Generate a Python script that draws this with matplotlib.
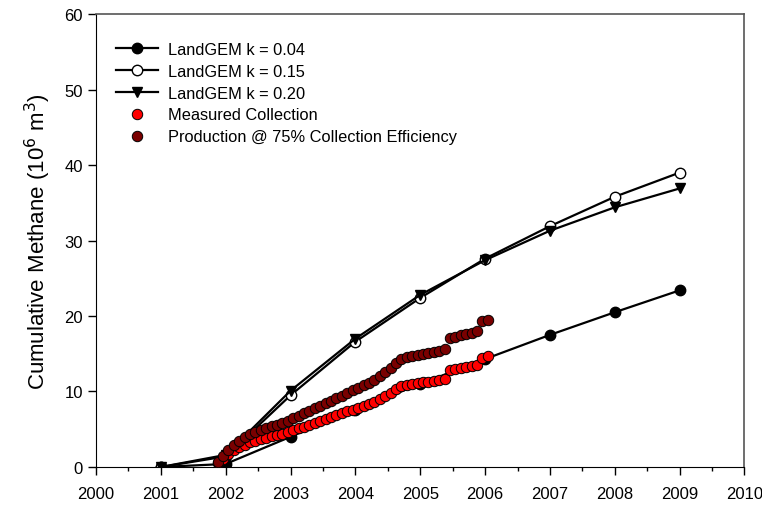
import matplotlib.pyplot as plt
import numpy as np

plt.rcParams['font.family'] = ['Liberation Sans', 'DejaVu Sans']

# LandGEM model runs, one value per year
anios = [2001, 2002, 2003, 2004, 2005, 2006, 2007, 2008, 2009]
k004 = [0.0, 0.4, 4.0, 7.6, 11.0, 14.3, 17.5, 20.5, 23.4]
k015 = [0.0, 1.4, 9.5, 16.6, 22.4, 27.6, 31.9, 35.8, 39.0]
k020 = [0.0, 1.6, 10.1, 17.0, 22.8, 27.4, 31.3, 34.4, 36.9]

# Monthly measured collection, Nov 2001 - Feb 2006 (10^6 m3)
medido = [0.5, 1.1, 1.7, 2.2, 2.6, 2.95, 3.25, 3.5, 3.7, 3.9, 4.05, 4.2,
          4.4, 4.6, 4.85, 5.1, 5.35, 5.6, 5.85, 6.1, 6.35, 6.6, 6.85, 7.1,
          7.35, 7.6, 7.85, 8.1, 8.35, 8.65, 9.0, 9.4, 9.8, 10.3, 10.7, 10.9,
          11.0, 11.1, 11.2, 11.3, 11.4, 11.55, 11.7, 12.8, 12.95, 13.1, 13.2,
          13.35, 13.5, 14.5, 14.65]
eficiencia = 0.75

meses = np.arange(len(medido))
fechas = 2001.875 + meses / 12.0
produccion = np.array(medido) / eficiencia

fig = plt.figure(figsize=(7.62, 5.10), dpi=100)
ax = fig.add_axes([0.126, 0.0824, 0.851, 0.888])

ax.plot(anios, k004, color='black', lw=1.6, marker='o', ms=7.5,
        mfc='black', mec='black', label='LandGEM k = 0.04', zorder=2)
ax.plot(anios, k015, color='black', lw=1.6, marker='o', ms=7.5,
        mfc='white', mec='black', label='LandGEM k = 0.15', zorder=2)
ax.plot(anios, k020, color='black', lw=1.6, marker='v', ms=7.5,
        mfc='black', mec='black', label='LandGEM k = 0.20', zorder=2)
ax.plot(fechas, medido, ls='none', marker='o', ms=7.5, mfc='#ff0000',
        mec='black', mew=0.7, label='Measured Collection', zorder=3)
ax.plot(fechas, produccion, ls='none', marker='o', ms=7.5, mfc='#7a0000',
        mec='black', mew=0.7, label='Production @ 75% Collection Efficiency',
        zorder=4)

ax.set_xlim(2000, 2010)
ax.set_ylim(0, 60)
ax.set_xticks(range(2000, 2011))
ax.set_xticks(np.arange(2000.5, 2010, 1), minor=True)
ax.set_yticks(range(0, 61, 10))
ax.tick_params(which='major', direction='out', length=6, width=1,
               labelsize=12, top=False, right=False)
ax.tick_params(which='minor', direction='out', length=3, width=1,
               top=False, right=False)
ax.tick_params(axis='x', pad=8)

for lado in ['top', 'right']:
    ax.spines[lado].set_color('#555555')
    ax.spines[lado].set_linewidth(1.2)

ax.set_ylabel('Cumulative Methane (10$^6$ m$^3$)', fontsize=16, labelpad=8)

ax.legend(loc='upper left', bbox_to_anchor=(0.005, 0.975), frameon=False,
          fontsize=11.8, handlelength=2.6, labelspacing=0.42,
          borderaxespad=0.6, handletextpad=0.6)

fig.savefig('out.png', dpi=100)
